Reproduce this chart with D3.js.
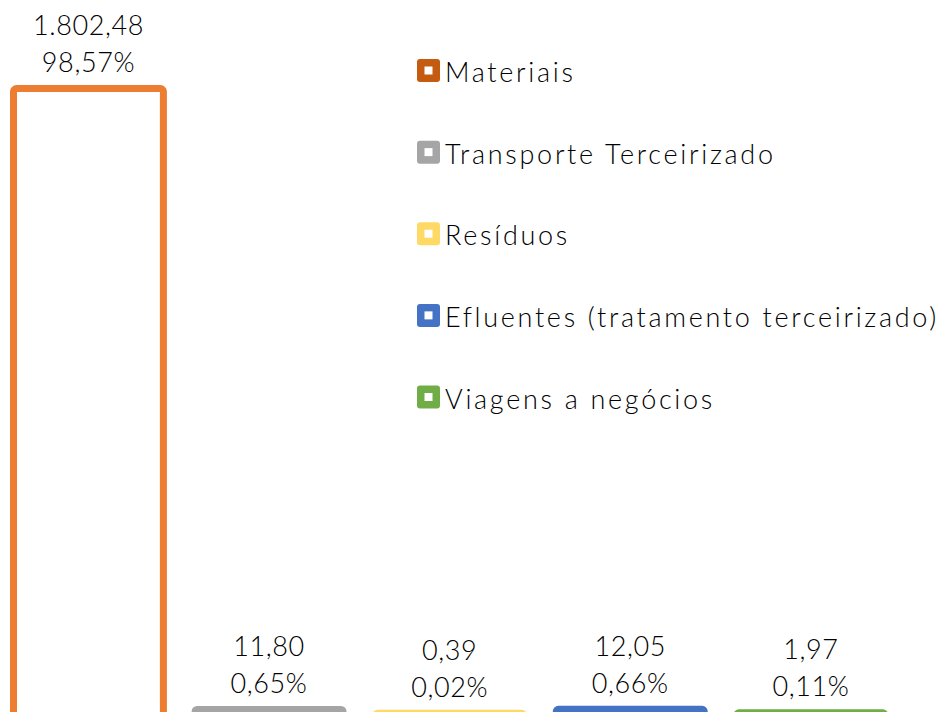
<!DOCTYPE html>
<html>
<head>
<meta charset="UTF-8">
<title>Emissões</title>
<script src="https://d3js.org/d3.v7.min.js"></script>
<style>
	html, body { margin: 0; padding: 0; background: #fff; overflow: hidden; }
	svg { display: block; }
</style>
</head>
<body>
<svg></svg>
<script type="text/javascript">
	var categories = ["Materiais", "Transporte Terceirizado", "Resíduos", "Efluentes (tratamento terceirizado)", "Viagens a negócios"];
	var values = [1802.48, 11.80, 0.39, 12.05, 1.97];
	var barColors = ["#ED7D31", "#A5A5A5", "#FFD966", "#4472C4", "#70AD47"];
	var legendColors = ["#C55A11", "#A5A5A5", "#FFD966", "#4472C4", "#70AD47"];

	var width = 939, height = 712;
	var fontFamily = "'Century Gothic', Lato, 'Open Sans', sans-serif";

	var svg = d3.select("svg")
		.attr("width", width)
		.attr("height", height)
		.style("font-family", fontFamily)
		.style("font-weight", 300);

	var total = d3.sum(values);
	var br = d3.formatLocale({ decimal: ",", thousands: ".", grouping: [3], currency: ["R$", ""] });
	var fmtVal = br.format(",.2f");
	var fmtPct = br.format(".2%");

	// bandas: passo ~180.6, largura ~150
	var x = d3.scaleBand()
		.domain(categories)
		.range([-1.85, 901.15])
		.paddingInner(0.17)
		.paddingOuter(0.085);

	// base do eixo fica um pouco abaixo da borda da imagem
	var y = d3.scaleLinear()
		.domain([0, d3.max(values)])
		.range([712.5, 88.5]);

	var data = categories.map(function(c, i) {
		return { name: c, value: values[i], color: barColors[i], sw: i == 0 ? 7 : 5 };
	});

	svg.selectAll("rect.bar")
		.data(data)
		.enter()
		.append("rect")
		.classed("bar", true)
		.attr("x", function(d) { return x(d.name); })
		.attr("width", x.bandwidth())
		.attr("y", function(d) { return y(d.value); })
		.attr("height", function(d) { return y(0) - y(d.value) + 10; })
		.attr("rx", 3)
		.attr("fill", function(d, i) { return i == 0 ? "#fff" : d.color; })
		.attr("stroke", function(d) { return d.color; })
		.attr("stroke-width", function(d) { return d.sw; });

	// rótulos: valor e percentual
	var labels = svg.selectAll("g.label")
		.data(data)
		.enter()
		.append("g")
		.classed("label", true)
		.attr("transform", function(d) {
			return "translate(" + (x(d.name) + x.bandwidth() / 2) + "," + (y(d.value) - d.sw / 2 - 13) + ")";
		})
		.attr("text-anchor", "middle")
		.attr("fill", "#000")
		.style("font-size", "27px")
		.style("letter-spacing", "0.6px");

	labels.append("text")
		.attr("y", -37)
		.text(function(d) { return fmtVal(d.value); });

	labels.append("text")
		.attr("y", 0)
		.text(function(d) { return fmtPct(d.value / total); });

	// legenda
	var ly = d3.scalePoint().domain(categories).range([70.5, 397]);

	var legend = svg.selectAll("g.legend")
		.data(data)
		.enter()
		.append("g")
		.classed("legend", true)
		.attr("transform", function(d) { return "translate(417," + ly(d.name) + ")"; });

	legend.append("rect")
		.attr("x", 0)
		.attr("y", -11.5)
		.attr("width", 23)
		.attr("height", 23)
		.attr("rx", 3)
		.attr("fill", function(d, i) { return legendColors[i]; });

	legend.append("rect")
		.attr("x", 7.5)
		.attr("y", -4)
		.attr("width", 8)
		.attr("height", 8)
		.attr("fill", "#fff");

	legend.append("text")
		.attr("x", 28)
		.attr("y", 1)
		.attr("dominant-baseline", "central")
		.attr("fill", "#000")
		.style("font-size", "27px")
		.style("letter-spacing", "2.7px")
		.text(function(d) { return d.name; });
</script>
</body>
</html>
